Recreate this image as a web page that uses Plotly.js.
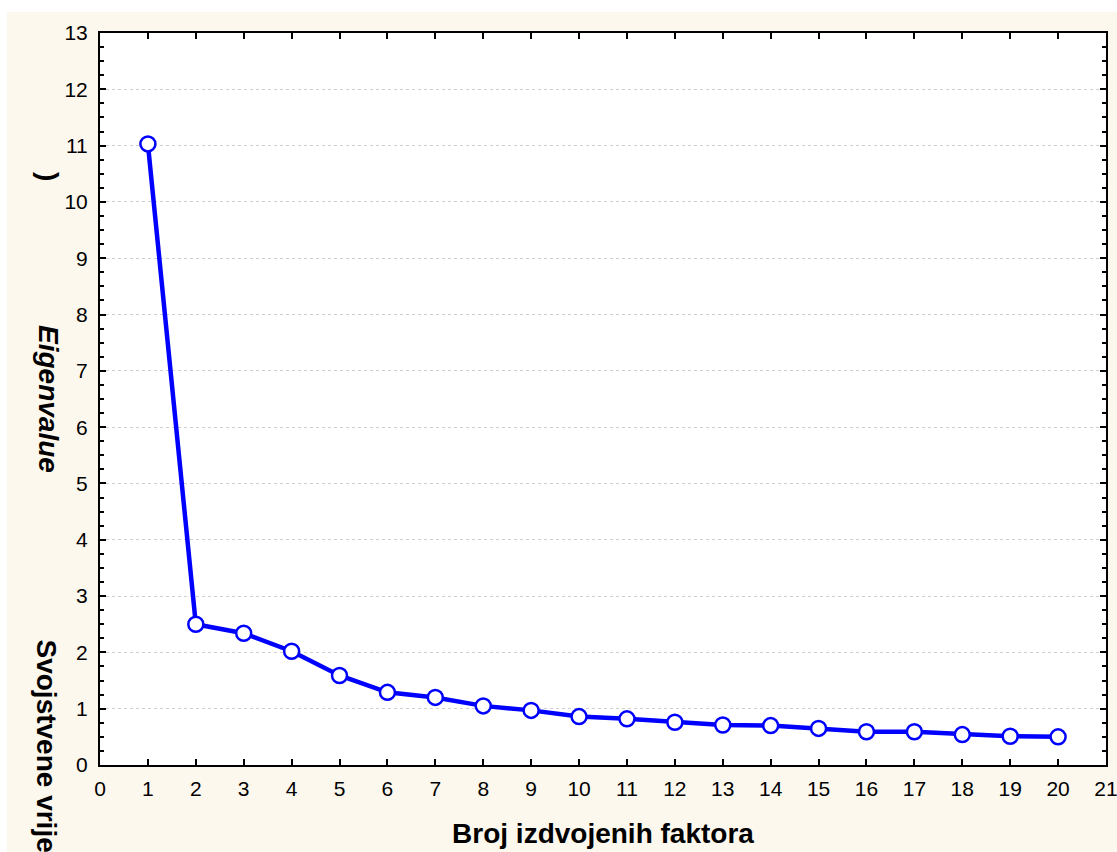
<!DOCTYPE html>
<html>
<head>
<meta charset="utf-8">
<script src="https://cdn.plot.ly/plotly-3.0.1.min.js"></script>
<style>
html,body{margin:0;padding:0;background:#ffffff;width:1117px;height:852px;overflow:hidden;}
#chart{position:absolute;left:7px;top:12px;width:1110px;height:840px;}
</style>
</head>
<body>
<div id="chart"></div>
<script>
const factors = [1,2,3,4,5,6,7,8,9,10,11,12,13,14,15,16,17,18,19,20];
const eigenvalues = [11.03,2.50,2.34,2.02,1.59,1.29,1.20,1.05,0.97,0.86,0.82,0.76,0.71,0.70,0.65,0.59,0.59,0.54,0.51,0.50];
const xTitle = 'Broj izdvojenih faktora';
const yTitleParts = [')', '<i>Eigenvalue</i>', 'Svojstvene vrijednosti'];

const trace = {
  x: factors, y: eigenvalues, type: 'scatter', mode: 'lines+markers',
  line: {color: '#0000ff', width: 4.5},
  marker: {size: 15, color: '#ffffff', line: {color: '#0000ff', width: 2.5}},
  hoverinfo: 'x+y'
};

// page px -> paper coords (plot area x 100..1106, y 33..765)
function px(p){ return (p - 100) / 1006; }
function py(p){ return (765 - p) / 732; }
const tfont = {family: 'Arial, Liberation Sans, sans-serif', size: 28, color: '#000000', weight: 'bold'};

const layout = {
  width: 1110, height: 840,
  margin: {l: 93, r: 11, t: 21, b: 87},
  paper_bgcolor: '#fdf8ee', plot_bgcolor: '#ffffff',
  showlegend: false,
  font: {family: 'Arial, Liberation Sans, sans-serif', size: 21, color: '#000000'},
  xaxis: {
    range: [0, 21], dtick: 1, tick0: 0, ticks: 'inside', ticklen: 6, tickwidth: 1.5, tickcolor: '#000',
    showline: true, linecolor: '#000', linewidth: 2, mirror: 'ticks', showgrid: false, zeroline: false,
    tickfont: {size: 21}, ticklabelstandoff: 4, ticklabeloverflow: 'allow',
    title: {text: '<b>' + xTitle + '</b>', font: tfont, standoff: 24}
  },
  yaxis: {
    range: [0, 13], dtick: 1, tick0: 0, ticks: 'inside', ticklen: 6, tickwidth: 1.5, tickcolor: '#000',
    showline: true, linecolor: '#000', linewidth: 2, mirror: 'ticks', zeroline: false,
    showgrid: true, gridcolor: '#cfcfcf', griddash: 'dot', gridwidth: 1,
    minor: {dtick: 0.25, ticks: 'inside', ticklen: 4, tickwidth: 1.5, tickcolor: '#000', showgrid: false},
    tickfont: {size: 21}, ticklabelstandoff: 6, ticklabeloverflow: 'allow'
  },
  annotations: [
    {text: '<b>' + yTitleParts[0] + '</b>', xref: 'paper', yref: 'paper', x: px(49), y: py(176),
     xanchor: 'center', yanchor: 'middle', textangle: 90, showarrow: false, font: tfont},
    {text: '<b>' + yTitleParts[1] + '</b>', xref: 'paper', yref: 'paper', x: px(49), y: py(399),
     xanchor: 'center', yanchor: 'middle', textangle: 90, showarrow: false, font: tfont},
    {text: '<b>' + yTitleParts[2] + '</b>', xref: 'paper', yref: 'paper', x: px(46), y: py(637),
     xanchor: 'center', yanchor: 'top', textangle: 90, showarrow: false, font: tfont}
  ]
};

Plotly.newPlot('chart', [trace], layout, {displayModeBar: false});
</script>
</body>
</html>
